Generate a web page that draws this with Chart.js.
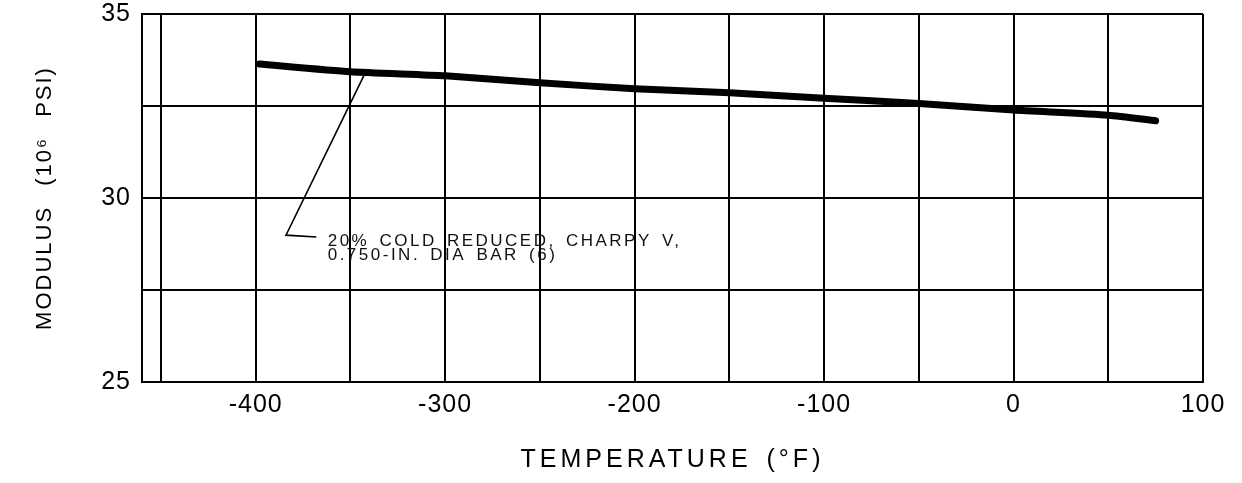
<!DOCTYPE html>
<html>
<head>
<meta charset="utf-8">
<script src="https://cdn.jsdelivr.net/npm/chart.js@4"></script>
<style>
html,body{margin:0;padding:0;background:#fff;}
#wrap{width:1242px;height:483px;}
</style>
</head>
<body>
<div id="wrap"><canvas id="c" width="1242" height="483"></canvas></div>
<script>
// ---- data ----
const temperatures = [-398, -350, -300, -250, -200, -150, -100, -50, 0, 50, 75];
const modulusValues = [33.64, 33.43, 33.32, 33.13, 32.97, 32.86, 32.71, 32.57, 32.39, 32.25, 32.10];

const xGridValues = [-450, -400, -350, -300, -250, -200, -150, -100, -50, 0, 50, 100];
const xTickLabels = ['-400', '-300', '-200', '-100', '0', '100'];
const yGridValues = [25, 27.5, 30, 32.5, 35];
const yTickLabels = ['25', '30', '35'];

const leaderX = [-368, -384, -342];
const leaderY = [28.94, 28.99, 33.42];
const noteLines = ['20% COLD REDUCED, CHARPY V,', '0.750-IN. DIA BAR (6)'];

const xTitle = 'TEMPERATURE (°F)';
const yTitle = 'MODULUS (10⁶ PSI)';

// ---- helpers ----
function patchSpacing(scale, titleSp, titleWord, labelSp) {
  if (scale._spPatched) return;
  scale._spPatched = true;
  const dt = scale.drawTitle, dl = scale.drawLabels;
  scale.drawTitle = function () {
    const c = this.ctx, o = c.letterSpacing, w = c.wordSpacing;
    c.letterSpacing = titleSp;
    c.wordSpacing = titleWord;
    dt.apply(this, arguments);
    c.letterSpacing = o || '0px';
    c.wordSpacing = w || '0px';
  };
  scale.drawLabels = function () {
    const c = this.ctx, o = c.letterSpacing;
    c.letterSpacing = labelSp;
    dl.apply(this, arguments);
    c.letterSpacing = o || '0px';
  };
}

const whiteBg = {
  id: 'whiteBg',
  beforeDraw(chart) {
    const c = chart.ctx;
    c.save();
    c.fillStyle = '#fff';
    c.fillRect(0, 0, chart.width, chart.height);
    c.restore();
  }
};

const noteText = {
  id: 'noteText',
  afterDatasetsDraw(chart) {
    const c = chart.ctx, xs = chart.scales.x, ys = chart.scales.y;
    c.save();
    c.fillStyle = '#111';
    c.font = '17px "Liberation Sans", Arial, sans-serif';
    c.letterSpacing = '2.5px';
    c.wordSpacing = '3px';
    c.textAlign = 'left';
    c.textBaseline = 'middle';
    const x0 = xs.getPixelForValue(-362);
    c.fillText(noteLines[0], x0, ys.getPixelForValue(28.83));
    c.fillText(noteLines[1], x0, ys.getPixelForValue(28.45));
    c.restore();
  }
};

new Chart(document.getElementById('c'), {
  type: 'line',
  data: {
    datasets: [
      {
        data: temperatures.map((t, i) => ({ x: t, y: modulusValues[i] })),
        borderColor: '#000',
        borderWidth: 7,
        borderCapStyle: 'round',
        borderJoinStyle: 'round',
        pointRadius: 0,
        tension: 0.2,
        fill: false
      },
      {
        data: leaderX.map((t, i) => ({ x: t, y: leaderY[i] })),
        borderColor: '#000',
        borderWidth: 1.6,
        pointRadius: 0,
        tension: 0,
        fill: false
      }
    ]
  },
  options: {
    responsive: false,
    devicePixelRatio: 1,
    animation: false,
    layout: { padding: { left: 0, right: 39, top: 14, bottom: 0 } },
    plugins: { legend: { display: false }, tooltip: { enabled: false } },
    scales: {
      x: {
        type: 'linear',
        min: -460,
        max: 100,
        afterBuildTicks(axis) { axis.ticks = xGridValues.map(v => ({ value: v })); },
        afterFit(scale) {
          scale.height = 101;
          scale.paddingLeft = 0; scale.paddingRight = 0;
          patchSpacing(scale, '4px', '4px', '1px');
        },
        ticks: {
          autoSkip: false,
          maxRotation: 0,
          padding: 8,
          color: '#000',
          font: { family: '"Liberation Sans", Arial, sans-serif', size: 25 },
          callback(v) {
            const s = String(v);
            return xTickLabels.includes(s) ? s : '';
          }
        },
        grid: { color: '#000', lineWidth: 2, drawTicks: false },
        border: { display: true, color: '#000', width: 2 },
        title: {
          display: true,
          text: xTitle,
          color: '#000',
          font: { family: '"Liberation Sans", Arial, sans-serif', size: 25 },
          padding: { top: 0, bottom: 8 }
        }
      },
      y: {
        type: 'linear',
        min: 25,
        max: 35,
        afterBuildTicks(axis) { axis.ticks = yGridValues.map(v => ({ value: v })); },
        afterFit(scale) {
          scale.width = 142;
          scale.paddingTop = 0; scale.paddingBottom = 0;
          patchSpacing(scale, '2px', '12px', '1px');
        },
        ticks: {
          autoSkip: false,
          padding: 11,
          color: '#000',
          font: { family: '"Liberation Sans", Arial, sans-serif', size: 25 },
          callback(v) {
            const s = String(v);
            return yTickLabels.includes(s) ? s : '';
          }
        },
        grid: { color: '#000', lineWidth: 2, drawTicks: false },
        border: { display: true, color: '#000', width: 2 },
        title: {
          display: true,
          text: yTitle,
          color: '#000',
          font: { family: '"Liberation Sans", Arial, sans-serif', size: 22 },
          padding: { top: 32, bottom: 0 }
        }
      }
    }
  },
  plugins: [whiteBg, noteText]
});
</script>
</body>
</html>
